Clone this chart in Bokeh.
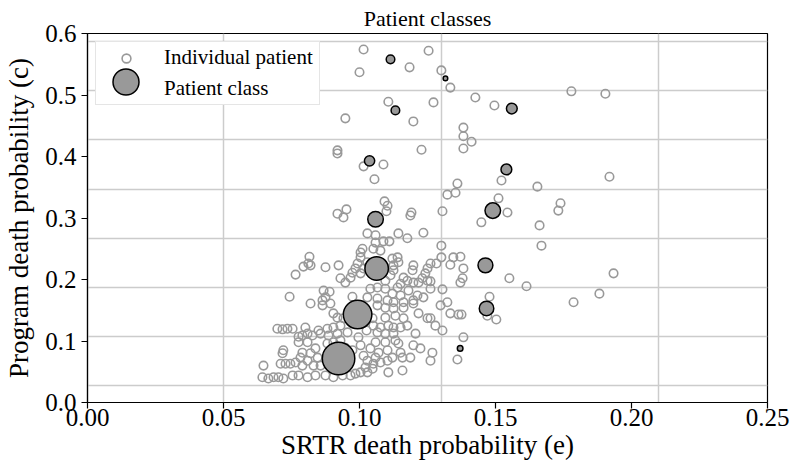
import math
from bokeh.plotting import figure
from bokeh.models import (FixedTicker, NumeralTickFormatter, Legend, LegendItem,
                          ColumnDataSource)
from bokeh.embed import file_html
from bokeh.resources import INLINE

# ---------------- data ----------------
title_text = "Patient classes"
x_label = "SRTR death probability (e)"
y_label = "Program death probability (c)"
x_ticks = [0.0, 0.05, 0.10, 0.15, 0.20, 0.25]
y_ticks = [0.0, 0.1, 0.2, 0.3, 0.4, 0.5, 0.6]
grid_x = [0.05, 0.13, 0.21]
grid_y = [0.027, 0.107, 0.187, 0.267, 0.347, 0.427, 0.507, 0.587]

patient_x = [
    0.1015, 0.1000, 0.1184, 0.1254, 0.1301, 0.1106, 0.1272, 0.0948, 0.1198, 0.0919,
    0.0919, 0.1228, 0.1015, 0.1088, 0.1055, 0.1092, 0.1103, 0.1099, 0.0919, 0.0952,
    0.0941, 0.1191, 0.1334, 0.1426, 0.1496, 0.1779, 0.1904, 0.1382, 0.1382, 0.1412,
    0.1382, 0.1919, 0.1522, 0.1654, 0.1360, 0.1353, 0.1323, 0.1511, 0.1739, 0.1731,
    0.1305, 0.1544,
    0.1448, 0.1662, 0.1301, 0.1669, 0.1261, 0.1283, 0.1301, 0.1334, 0.1345, 0.1371,
    0.1382, 0.1379, 0.1371, 0.1551, 0.1614, 0.1934, 0.1882, 0.1787, 0.1261, 0.1261,
    0.1305, 0.1478, 0.1298, 0.1334, 0.1364, 0.1375, 0.1470, 0.1503, 0.1261, 0.1279,
    0.1305, 0.1382, 0.1268, 0.1261, 0.1360, 0.1235, 0.1187,
    0.1143, 0.1176, 0.1029, 0.1059, 0.1059, 0.1088, 0.1110, 0.1011, 0.1051, 0.1077,
    0.1140, 0.1143, 0.1198, 0.1195, 0.1250, 0.1242, 0.1231, 0.1250, 0.1217, 0.1162,
    0.1151, 0.1176, 0.1198, 0.1140, 0.1180, 0.1213, 0.1151, 0.1121, 0.1095, 0.1066,
    0.1040, 0.1029, 0.1066, 0.1103, 0.1162, 0.1198, 0.1235, 0.1125, 0.1004, 0.1029,
    0.1015, 0.1121, 0.1125, 0.1125, 0.1114, 0.1095, 0.1323,
    0.0816, 0.0812, 0.0794, 0.0820, 0.0765, 0.0875, 0.0923, 0.1004, 0.0993, 0.0974,
    0.0967, 0.0930, 0.0948, 0.1004, 0.0985, 0.0743, 0.0868, 0.0890, 0.0875, 0.0864,
    0.0820, 0.0864, 0.0893, 0.0904, 0.0698, 0.0717, 0.0735, 0.0754, 0.0801, 0.0790,
    0.0809, 0.0827, 0.0857, 0.0886, 0.0919, 0.0882, 0.0904, 0.0930, 0.0956, 0.0996,
    0.0919, 0.0941, 0.0720, 0.0717, 0.0790, 0.0820, 0.0838, 0.0882, 0.0904, 0.0930,
    0.0948, 0.0846, 0.0809, 0.0647, 0.0710, 0.0728, 0.0746, 0.0765, 0.0790, 0.0831,
    0.0857, 0.0643, 0.0665, 0.0684, 0.0702, 0.0720, 0.0754, 0.0776, 0.0809, 0.0838,
    0.0875, 0.0904, 0.0938, 0.0967, 0.0985, 0.1004, 0.0849, 0.0809, 0.0776,
    0.1198, 0.1162, 0.1125, 0.1095, 0.1066, 0.1217, 0.1250, 0.1206, 0.1198, 0.1224,
    0.1187, 0.1158, 0.1106, 0.1162, 0.1132, 0.1095, 0.1106, 0.1125, 0.1151, 0.1176,
    0.1077, 0.1051, 0.1066, 0.1095, 0.1125, 0.1132, 0.1095, 0.1059, 0.1040, 0.1070,
    0.1103, 0.1143, 0.1151, 0.1121, 0.1103, 0.1077, 0.1051, 0.1029, 0.1022, 0.1048,
    0.1029, 0.1158, 0.1059, 0.1015, 0.0776, 0.0783,
    0.0974, 0.1048, 0.1026, 0.1004, 0.0974, 0.0952,
]
patient_y = [
    0.574, 0.537, 0.545, 0.572, 0.540, 0.489, 0.488, 0.462, 0.457, 0.410,
    0.405, 0.411, 0.384, 0.387, 0.363, 0.327, 0.320, 0.311, 0.307, 0.314,
    0.301, 0.309, 0.512, 0.496, 0.483, 0.506, 0.502, 0.447, 0.433, 0.424,
    0.413, 0.367, 0.361, 0.351, 0.356, 0.341, 0.338, 0.332, 0.324, 0.312,
    0.311, 0.309,
    0.293, 0.288, 0.255, 0.255, 0.226, 0.226, 0.236, 0.224, 0.236, 0.237,
    0.218, 0.202, 0.195, 0.202, 0.189, 0.210, 0.177, 0.163, 0.197, 0.185,
    0.184, 0.172, 0.158, 0.145, 0.143, 0.143, 0.141, 0.135, 0.137, 0.125,
    0.117, 0.106, 0.081, 0.068, 0.070, 0.276, 0.304,
    0.275, 0.267, 0.275, 0.272, 0.260, 0.262, 0.262, 0.250, 0.250, 0.247,
    0.236, 0.228, 0.223, 0.215, 0.218, 0.210, 0.202, 0.198, 0.195, 0.203,
    0.193, 0.198, 0.195, 0.187, 0.182, 0.174, 0.174, 0.177, 0.185, 0.187,
    0.185, 0.171, 0.169, 0.166, 0.163, 0.166, 0.171, 0.163, 0.236, 0.228,
    0.218, 0.234, 0.223, 0.215, 0.207, 0.198, 0.163,
    0.237, 0.226, 0.221, 0.223, 0.208, 0.220, 0.223, 0.244, 0.226, 0.211,
    0.203, 0.202, 0.195, 0.210, 0.218, 0.172, 0.182, 0.180, 0.171, 0.166,
    0.161, 0.158, 0.161, 0.145, 0.120, 0.119, 0.120, 0.120, 0.122, 0.109,
    0.112, 0.109, 0.112, 0.109, 0.112, 0.120, 0.122, 0.125, 0.114, 0.106,
    0.138, 0.137, 0.085, 0.080, 0.081, 0.080, 0.088, 0.096, 0.098, 0.101,
    0.089, 0.073, 0.068, 0.060, 0.063, 0.063, 0.063, 0.065, 0.060, 0.060,
    0.060, 0.041, 0.039, 0.041, 0.041, 0.039, 0.044, 0.044, 0.041, 0.044,
    0.044, 0.041, 0.044, 0.044, 0.047, 0.049, 0.117, 0.098, 0.098,
    0.161, 0.154, 0.153, 0.154, 0.158, 0.145, 0.137, 0.112, 0.093, 0.088,
    0.073, 0.052, 0.049, 0.137, 0.141, 0.138, 0.125, 0.122, 0.122, 0.125,
    0.122, 0.125, 0.114, 0.112, 0.112, 0.101, 0.098, 0.098, 0.088, 0.081,
    0.085, 0.096, 0.081, 0.073, 0.068, 0.065, 0.063, 0.068, 0.057, 0.055,
    0.049, 0.073, 0.073, 0.076, 0.107, 0.073,
    0.172, 0.137, 0.117, 0.093, 0.085, 0.068,
]

class_x = [0.1114, 0.1316, 0.1132, 0.1560, 0.1037, 0.1540, 0.1059,
           0.1490, 0.1463, 0.1063, 0.1467, 0.0993, 0.1370, 0.0923]
class_y = [0.558, 0.527, 0.475, 0.478, 0.393, 0.379, 0.298,
           0.312, 0.223, 0.218, 0.153, 0.143, 0.088, 0.0715]
class_n = [7, 2, 7, 11, 10, 11, 23, 23, 21, 52, 20, 77, 3, 100]

# ---------------- figure ----------------
FONT = "Liberation Serif"

p = figure(width=790, height=465, x_range=(0, 0.25), y_range=(0, 0.6),
           output_backend="svg", toolbar_location=None, title=title_text,
           min_border_left=87, min_border_right=23, min_border_top=33,
           min_border_bottom=63)

p.title.align = "center"
p.title.text_font = FONT
p.title.text_font_size = "22px"
p.title.text_font_style = "normal"
p.title.text_color = "black"
p.title.standoff = 6

p.outline_line_color = "black"
p.outline_line_width = 1.2
p.background_fill_color = "white"
p.border_fill_color = "white"

for ax in (p.xaxis, p.yaxis):
    ax.axis_line_color = "black"
    ax.axis_line_width = 1.2
    ax.major_tick_line_color = "black"
    ax.major_tick_line_width = 1.2
    ax.major_tick_out = 6
    ax.major_tick_in = 0
    ax.minor_tick_line_color = None
    ax.major_label_text_font = FONT
    ax.major_label_text_font_size = "25px"
    ax.major_label_text_color = "black"
    ax.axis_label_text_font = FONT
    ax.axis_label_text_font_size = "27px"
    ax.axis_label_text_font_style = "normal"
    ax.axis_label_text_color = "black"

p.xaxis.ticker = FixedTicker(ticks=x_ticks)
p.yaxis.ticker = FixedTicker(ticks=y_ticks)
p.xaxis.formatter = NumeralTickFormatter(format="0.00")
p.yaxis.formatter = NumeralTickFormatter(format="0.0")
p.xaxis.axis_label = x_label
p.yaxis.axis_label = y_label
p.xaxis.major_label_standoff = 0
p.xaxis.axis_label_standoff = 1
p.yaxis.major_label_standoff = 5
p.yaxis.axis_label_standoff = 8

p.xgrid.ticker = FixedTicker(ticks=grid_x)
p.ygrid.ticker = FixedTicker(ticks=grid_y)
p.xgrid.grid_line_color = "#cccccc"
p.ygrid.grid_line_color = "#cccccc"
p.xgrid.grid_line_width = 1.5
p.ygrid.grid_line_width = 1.5

r_ind = p.scatter(patient_x, patient_y, marker="circle", size=8.5,
                  fill_color=None, line_color="#999999", line_width=1.6)

cls_src = ColumnDataSource(dict(x=class_x, y=class_y,
                                size=[3.25 * math.sqrt(n) for n in class_n]))
r_cls = p.scatter("x", "y", source=cls_src, marker="circle", size="size",
                  fill_color="#999999", line_color="black", line_width=1.5)

leg_a = Legend(items=[LegendItem(label="Individual patient", renderers=[r_ind]),
                      LegendItem(label="Patient class", renderers=[r_cls])],
               location="top_left", margin=8, padding=3, spacing=6,
               glyph_width=54, glyph_height=22, label_standoff=11,
               label_width=152,
               label_text_font=FONT, label_text_font_size="21px",
               label_text_color="black",
               border_line_color="#cccccc", border_line_width=1.5,
               background_fill_color="white", background_fill_alpha=1.0)
p.add_layout(leg_a)

leg_b = Legend(items=[LegendItem(label="", renderers=[r_cls])],
               location=(5.5, 288.5), margin=0, padding=0, spacing=0,
               glyph_width=65, glyph_height=65, label_standoff=0,
               label_text_font_size="1px", label_width=0, label_height=0,
               border_line_alpha=0, background_fill_alpha=0)
p.add_layout(leg_b)

open("out.html", "w").write(file_html(p, INLINE))
